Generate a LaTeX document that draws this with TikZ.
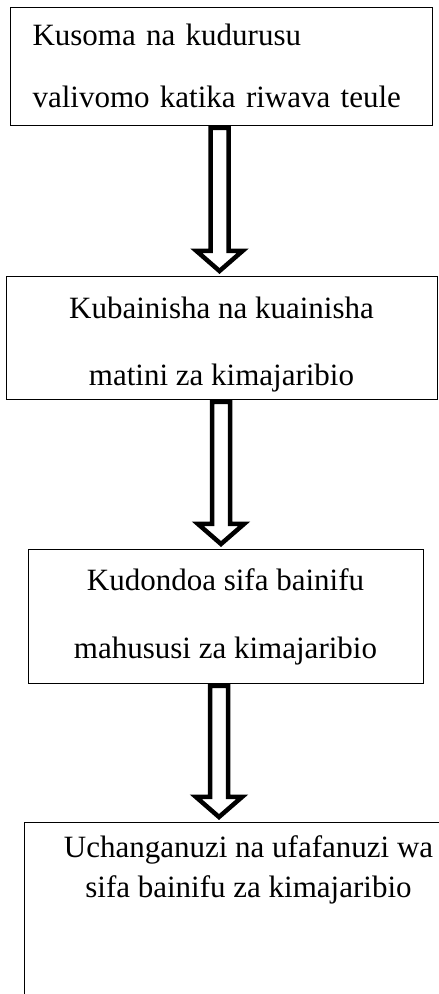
\documentclass[tikz,border=0pt]{standalone}
\usepackage{fontspec}
\setmainfont{Liberation Serif}
\usetikzlibrary{calc}

\tikzset{
  stepbox/.style={draw, line width=1pt, inner ysep=0pt, font=\fontsize{31}{40}\selectfont},
  hollow/.style={draw, line width=4.5pt, fill=white, miter limit=10,
    to path={let \p1=(\tikztostart), \p2=(\tikztotarget) in
      (\x1-9pt,\y1-2pt) -- (\x1-9pt,\y2+25pt) -- (\x1-23pt,\y2+25pt) -- (\x1,\y2+5pt)
      -- (\x1+23pt,\y2+25pt) -- (\x1+9pt,\y2+25pt) -- (\x1+9pt,\y1-2pt) -- cycle}}
}

\begin{document}
\begin{tikzpicture}[x=1pt,y=1pt]

\useasboundingbox (0,0) rectangle (439,994);
\clip (0,0) rectangle (439,994);

\node[stepbox, anchor=north west, align=left, text width=378pt, inner xsep=22pt] (b1) at (10,987)
  {\rule{0pt}{38pt}Kusoma na kudurusu\\[22pt]valivomo katika riwava teule\rule[-18pt]{0pt}{18pt}};
\node[stepbox, anchor=north, minimum width=431pt, align=center] (b2) at (221.5,718)
  {\rule{0pt}{42pt}Kubainisha na kuainisha\\[27pt]matini za kimajaribio\rule[-14pt]{0pt}{14pt}};
\node[stepbox, anchor=north, minimum width=395pt, align=center] (b3) at (225.5,445)
  {\rule{0pt}{41pt}Kudondoa sifa bainifu\\[28pt]mahususi za kimajaribio\rule[-25pt]{0pt}{25pt}};
\node[stepbox, anchor=north, minimum width=449pt, align=center] (b4) at (248.5,172)
  {\rule{0pt}{35pt}Uchanganuzi na ufafanuzi wa\\sifa bainifu za kimajaribio\rule[-160pt]{0pt}{160pt}};

\coordinate (t1) at ([xshift=-2pt]b1.south);
\coordinate (t2) at ([xshift=-0.5pt]b2.south);
\coordinate (t3) at ([xshift=-6.5pt]b3.south);

\draw[hollow] (t1) to (b2.north);
\draw[hollow] (t2) to (b3.north);
\draw[hollow] (t3) to (b4.north);

\end{tikzpicture}
\end{document}
